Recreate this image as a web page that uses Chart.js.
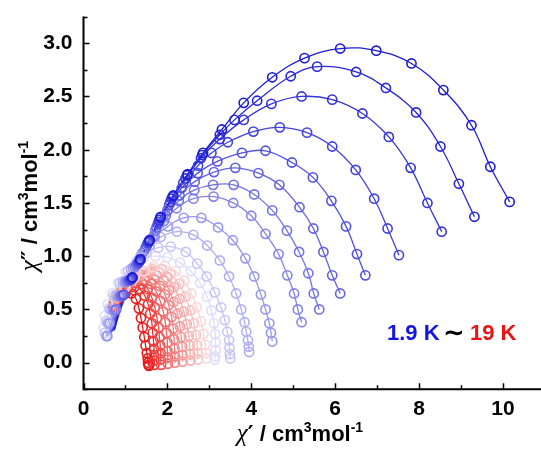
<!DOCTYPE html>
<html>
<head>
<meta charset="utf-8">
<script src="https://cdn.jsdelivr.net/npm/chart.js@4/dist/chart.umd.min.js"></script>
<style>
  html, body { margin: 0; padding: 0; background: #fff; }
  #wrap { width: 541px; height: 449px; }
</style>
</head>
<body>
<div id="wrap"><canvas id="myChart" width="541" height="449"></canvas></div>
<script>
// Cole-Cole data, chi' (x) vs chi'' (y), 1.9 K (blue) up to 19 K (red)
const xTicks = [0, 2, 4, 6, 8, 10];
const yTicks = [0.0, 0.5, 1.0, 1.5, 2.0, 2.5, 3.0];

// measured circles
const s01 = [[1.17,0.80],[1.36,0.97],[1.58,1.15],[1.84,1.37],[2.14,1.57],[2.48,1.77],[2.85,1.97],[3.30,2.19],[3.82,2.44],[4.50,2.68],[5.27,2.86],[6.12,2.95],[6.98,2.93],[7.82,2.81],[8.58,2.56],[9.25,2.23],[9.70,1.84],[10.16,1.51]];
const s02 = [[1.16,0.80],[1.35,0.97],[1.57,1.15],[1.83,1.36],[2.13,1.56],[2.47,1.76],[2.83,1.95],[3.25,2.14],[3.60,2.28],[4.14,2.46],[4.94,2.69],[5.57,2.78],[6.50,2.73],[7.21,2.58],[7.93,2.35],[8.51,2.03],[8.95,1.68],[9.32,1.37]];
const s03 = [[1.15,0.79],[1.34,0.96],[1.56,1.14],[1.81,1.34],[2.10,1.54],[2.43,1.73],[2.80,1.92],[3.25,2.10],[3.82,2.28],[4.48,2.43],[5.20,2.50],[5.93,2.47],[6.65,2.34],[7.28,2.12],[7.80,1.83],[8.20,1.50],[8.54,1.23]];
const s04 = [[1.13,0.78],[1.33,0.95],[1.55,1.13],[1.79,1.32],[2.07,1.51],[2.38,1.69],[2.73,1.85],[3.05,1.97],[3.44,2.07],[4.05,2.17],[4.68,2.21],[5.33,2.16],[5.93,2.03],[6.49,1.81],[6.93,1.54],[7.25,1.26],[7.52,1.01]];
const s05 = [[0.96,0.64],[1.11,0.78],[1.31,0.94],[1.53,1.12],[1.77,1.30],[2.04,1.48],[2.34,1.64],[2.72,1.78],[3.19,1.89],[3.78,1.97],[4.34,1.99],[4.97,1.88],[5.47,1.74],[5.91,1.52],[6.26,1.28],[6.52,1.02],[6.72,0.82]];
const s06 = [[0.93,0.63],[1.09,0.77],[1.29,0.93],[1.51,1.10],[1.74,1.27],[2.00,1.43],[2.29,1.57],[2.65,1.70],[3.11,1.79],[3.62,1.83],[4.17,1.78],[4.67,1.67],[5.15,1.46],[5.48,1.26],[5.72,1.04],[5.93,0.82],[6.12,0.65]];
const s07 = [[0.78,0.50],[0.90,0.63],[1.06,0.77],[1.26,0.92],[1.48,1.08],[1.71,1.24],[1.96,1.38],[2.27,1.52],[2.64,1.62],[3.09,1.67],[3.58,1.67],[4.07,1.58],[4.50,1.43],[4.85,1.24],[5.14,1.04],[5.36,0.84],[5.49,0.65],[5.62,0.50]];
const s08 = [[0.75,0.49],[0.87,0.62],[1.03,0.76],[1.23,0.90],[1.45,1.05],[1.67,1.19],[1.92,1.33],[2.22,1.45],[2.62,1.54],[3.10,1.56],[3.57,1.50],[4.00,1.38],[4.34,1.21],[4.65,1.02],[4.86,0.82],[5.02,0.65],[5.11,0.50],[5.20,0.38]];
const s09 = [[0.57,0.25],[0.62,0.37],[0.71,0.49],[0.83,0.62],[0.99,0.76],[1.18,0.89],[1.40,1.03],[1.70,1.18],[2.01,1.28],[2.39,1.36],[2.81,1.36],[3.21,1.27],[3.56,1.15],[3.86,0.98],[4.07,0.81],[4.23,0.64],[4.34,0.50],[4.43,0.37],[4.47,0.28],[4.50,0.20]];
const s10 = [[0.54,0.25],[0.58,0.37],[0.66,0.50],[0.78,0.63],[0.94,0.76],[1.13,0.88],[1.36,1.00],[1.58,1.10],[1.84,1.18],[2.23,1.23],[2.62,1.20],[2.95,1.10],[3.25,0.96],[3.47,0.81],[3.64,0.65],[3.76,0.50],[3.84,0.38],[3.88,0.29],[3.92,0.21],[3.94,0.15],[3.95,0.10]];
const s11 = [[0.51,0.28],[0.54,0.39],[0.61,0.51],[0.72,0.63],[0.87,0.75],[1.06,0.86],[1.28,0.96],[1.50,1.03],[1.78,1.08],[2.08,1.09],[2.44,1.04],[2.71,0.93],[2.94,0.81],[3.13,0.66],[3.28,0.52],[3.37,0.40],[3.43,0.29],[3.47,0.21],[3.48,0.14],[3.49,0.08],[3.50,0.04]];
const s12 = [[0.48,0.33],[0.51,0.44],[0.58,0.55],[0.68,0.65],[0.83,0.75],[1.01,0.85],[1.23,0.93],[1.45,0.99],[1.72,1.00],[2.00,0.99],[2.30,0.94],[2.56,0.86],[2.78,0.75],[2.95,0.62],[3.05,0.49],[3.11,0.37],[3.14,0.27],[3.15,0.19],[3.15,0.12],[3.14,0.06],[3.13,0.03]];
const r01 = [[0.82,0.62],[1.00,0.71],[1.22,0.80],[1.45,0.86],[1.67,0.90],[1.94,0.91],[2.19,0.86],[2.40,0.77],[2.57,0.65],[2.70,0.52],[2.80,0.39],[2.86,0.27],[2.90,0.17],[2.92,0.09],[2.93,0.04]];
const r02 = [[0.80,0.62],[0.98,0.71],[1.20,0.79],[1.42,0.85],[1.63,0.88],[1.86,0.88],[2.08,0.83],[2.28,0.74],[2.43,0.62],[2.55,0.49],[2.63,0.37],[2.68,0.26],[2.71,0.16],[2.72,0.09],[2.73,0.03]];
const r03 = [[0.78,0.61],[0.96,0.70],[1.18,0.78],[1.39,0.83],[1.60,0.86],[1.80,0.85],[1.99,0.80],[2.16,0.71],[2.29,0.60],[2.39,0.48],[2.46,0.36],[2.51,0.25],[2.53,0.16],[2.54,0.08],[2.55,0.02]];
const r04 = [[0.77,0.60],[0.94,0.69],[1.16,0.77],[1.37,0.82],[1.56,0.84],[1.74,0.82],[1.91,0.77],[2.04,0.68],[2.15,0.57],[2.24,0.46],[2.30,0.34],[2.33,0.24],[2.35,0.15],[2.36,0.07],[2.36,0.01]];
const r05 = [[0.75,0.59],[0.92,0.68],[1.13,0.76],[1.33,0.80],[1.51,0.81],[1.68,0.78],[1.82,0.72],[1.94,0.64],[2.03,0.54],[2.10,0.43],[2.14,0.32],[2.16,0.22],[2.17,0.13],[2.18,0.06],[2.18,0.00]];
const r06 = [[0.74,0.58],[0.90,0.67],[1.10,0.74],[1.29,0.78],[1.46,0.78],[1.61,0.74],[1.73,0.67],[1.83,0.58],[1.90,0.48],[1.95,0.38],[1.98,0.28],[2.00,0.19],[2.00,0.11],[2.01,0.05],[2.01,-0.01]];
const r07 = [[0.73,0.56],[0.88,0.65],[1.07,0.72],[1.25,0.75],[1.40,0.74],[1.53,0.69],[1.63,0.61],[1.70,0.52],[1.75,0.42],[1.79,0.33],[1.81,0.24],[1.83,0.16],[1.84,0.09],[1.84,0.03],[1.85,-0.02]];
const r08 = [[0.72,0.54],[0.86,0.63],[1.04,0.69],[1.21,0.71],[1.35,0.69],[1.46,0.63],[1.54,0.55],[1.59,0.46],[1.63,0.37],[1.65,0.28],[1.67,0.20],[1.68,0.13],[1.68,0.07],[1.69,0.02],[1.69,-0.02]];
const r09 = [[0.70,0.52],[0.84,0.60],[1.00,0.65],[1.14,0.65],[1.25,0.60],[1.32,0.51],[1.37,0.42],[1.41,0.33],[1.45,0.24],[1.48,0.16],[1.51,0.09],[1.53,0.04],[1.54,0.00],[1.55,-0.02],[1.56,-0.03]];

// fit lines of the coldest curves run further down than their circles
const t01 = [[0.74,0.31],[0.81,0.41],[0.90,0.52],[1.02,0.65]];
const t02 = [[0.73,0.31],[0.80,0.41],[0.89,0.52],[1.01,0.65]];
const t03 = [[0.72,0.30],[0.79,0.40],[0.88,0.52],[1.00,0.65]];
const t04 = [[0.70,0.30],[0.77,0.40],[0.86,0.51],[0.98,0.64]];
const t05 = [[0.68,0.29],[0.75,0.39],[0.84,0.51]];
const t06 = [[0.66,0.28],[0.72,0.38],[0.81,0.50]];
const t07 = [[0.63,0.27],[0.69,0.38]];
const t08 = [[0.60,0.26],[0.66,0.37]];

const curves = [s01, s02, s03, s04, s05, s06, s07, s08, s09, s10, s11, s12,
                r01, r02, r03, r04, r05, r06, r07, r08, r09];
const tails = [t01, t02, t03, t04, t05, t06, t07, t08];
const colors = [
    'rgb(28,28,214)', 'rgb(40,40,216)', 'rgb(52,52,218)', 'rgb(66,66,222)',
    'rgb(82,82,225)', 'rgb(98,98,228)', 'rgb(115,115,231)', 'rgb(132,132,234)',
    'rgb(152,152,238)', 'rgb(175,175,242)', 'rgb(198,198,246)', 'rgb(222,222,250)',
    'rgb(250,215,215)', 'rgb(248,192,192)', 'rgb(246,170,170)', 'rgb(244,148,148)',
    'rgb(242,125,125)', 'rgb(240,100,100)', 'rgb(238,75,75)', 'rgb(236,50,50)',
    'rgb(232,25,25)'
];

const FONT = "'Liberation Sans', Arial, sans-serif";
const toXY = arr => arr.map(p => ({x: p[0], y: p[1]}));

let datasets = [];
for (let i = 0; i < curves.length; i++) {
    const tail = tails[i] || [];
    // fit line
    datasets.push({
        data: toXY(tail.concat(curves[i])),
        showLine: true,
        tension: 0.4,
        borderColor: colors[i],
        borderWidth: 1.3,
        pointRadius: 0,
        order: 1
    });
    // circles
    datasets.push({
        data: toXY(curves[i]),
        showLine: false,
        pointRadius: 4.6,
        pointBorderWidth: 1.6,
        pointBorderColor: colors[i],
        pointBackgroundColor: 'rgba(0,0,0,0)',
        order: 0
    });
}

function setPartFont(ctx, p, size) {
    if (p[2]) ctx.font = p[2];
    else ctx.font = 'bold ' + (p[1] ? Math.round(size * 0.62) : size) + 'px ' + FONT;
}
function unitWidth(ctx, parts, size) {
    let w = 0;
    parts.forEach(p => { setPartFont(ctx, p, size); w += ctx.measureText(p[0]).width; });
    return w;
}
function drawUnit(ctx, parts, x, y, size) {
    let cx = x;
    parts.forEach(p => {
        setPartFont(ctx, p, size);
        ctx.fillText(p[0], cx, p[1] ? y - size * 0.42 : y);
        cx += ctx.measureText(p[0]).width;
    });
}

const axesPlugin = {
    id: 'axesPlugin',
    afterDraw(chart) {
        const ctx = chart.ctx;
        const a = chart.chartArea;
        const xs = chart.scales.x;
        const ys = chart.scales.y;
        ctx.save();
        ctx.strokeStyle = '#000';
        ctx.lineWidth = 2;
        ctx.beginPath();
        ctx.moveTo(a.left, a.top);
        ctx.lineTo(a.left, a.bottom);
        ctx.lineTo(chart.width, a.bottom);
        ctx.stroke();
        ctx.lineWidth = 1.5;
        ctx.beginPath();
        xs.ticks.forEach(t => {
            const px = Math.round(xs.getPixelForValue(t.value)) + 0.5;
            const len = xTicks.includes(t.value) ? 6 : 4;
            ctx.moveTo(px, a.bottom);
            ctx.lineTo(px, a.bottom - len);
        });
        ys.ticks.forEach(t => {
            const py = Math.round(ys.getPixelForValue(t.value)) + 0.5;
            const major = yTicks.some(v => Math.abs(v - t.value) < 1e-6);
            ctx.moveTo(a.left, py);
            ctx.lineTo(a.left + (major ? 6 : 4), py);
        });
        ctx.stroke();

        ctx.fillStyle = '#000';
        ctx.textBaseline = 'alphabetic';
        ctx.textAlign = 'left';
        const chiFont = 'italic 25px "Liberation Serif", serif';
        const primeFont = 'bold 22px "DejaVu Sans", sans-serif';
        const xParts = [['\u03C7', false, chiFont], ['\u2032', false, primeFont],
                        [' / cm', false], ['3', true], ['mol', false], ['-1', true]];
        const wx = unitWidth(ctx, xParts, 22);
        drawUnit(ctx, xParts, 300 - wx / 2, 441, 22);
        ctx.save();
        ctx.translate(37, 206);
        ctx.rotate(-Math.PI / 2);
        const yParts = [['\u03C7', false, chiFont], ['\u2033', false, primeFont],
                        [' / cm', false], ['3', true], ['mol', false], ['-1', true]];
        const wy = unitWidth(ctx, yParts, 22);
        drawUnit(ctx, yParts, -wy / 2, 0, 22);
        ctx.restore();
        ctx.font = 'bold 22px ' + FONT;
        ctx.fillStyle = 'rgb(20,20,230)';
        ctx.fillText('1.9 K', 387, 340);
        ctx.fillStyle = '#000';
        ctx.font = 'bold 26px "DejaVu Sans", sans-serif';
        ctx.fillText('\u223C', 443, 341);
        ctx.font = 'bold 22px ' + FONT;
        ctx.fillStyle = 'rgb(235,20,20)';
        ctx.fillText('19 K', 470, 340);
        ctx.restore();
    }
};

new Chart(document.getElementById('myChart').getContext('2d'), {
    type: 'scatter',
    data: { datasets: datasets },
    options: {
        responsive: false,
        animation: false,
        devicePixelRatio: 1,
        layout: { padding: { top: 16.6, right: 0, left: 0, bottom: 0 } },
        plugins: { legend: { display: false }, tooltip: { enabled: false } },
        scales: {
            x: {
                type: 'linear',
                min: 0,
                max: 10.76,
                grid: { display: false, drawTicks: false },
                border: { display: false },
                ticks: {
                    stepSize: 1,
                    includeBounds: false,
                    padding: 7,
                    color: '#000',
                    maxRotation: 0,
                    autoSkip: false,
                    font: { family: FONT, size: 21, weight: 'bold' },
                    callback: v => xTicks.includes(v) ? String(v) : ''
                },
                afterFit: s => { s.height = 59.7; s.paddingLeft = 0; s.paddingRight = 0; }
            },
            y: {
                type: 'linear',
                min: -0.25,
                max: 3.25,
                grid: { display: false, drawTicks: false },
                border: { display: false },
                ticks: {
                    stepSize: 0.25,
                    includeBounds: false,
                    padding: 11,
                    color: '#000',
                    autoSkip: false,
                    font: { family: FONT, size: 21, weight: 'bold' },
                    callback: v => yTicks.some(t => Math.abs(t - v) < 1e-6) ? v.toFixed(1) : ''
                },
                afterFit: s => { s.width = 83.5; s.paddingTop = 0; s.paddingBottom = 0; }
            }
        }
    },
    plugins: [axesPlugin]
});
</script>
</body>
</html>
